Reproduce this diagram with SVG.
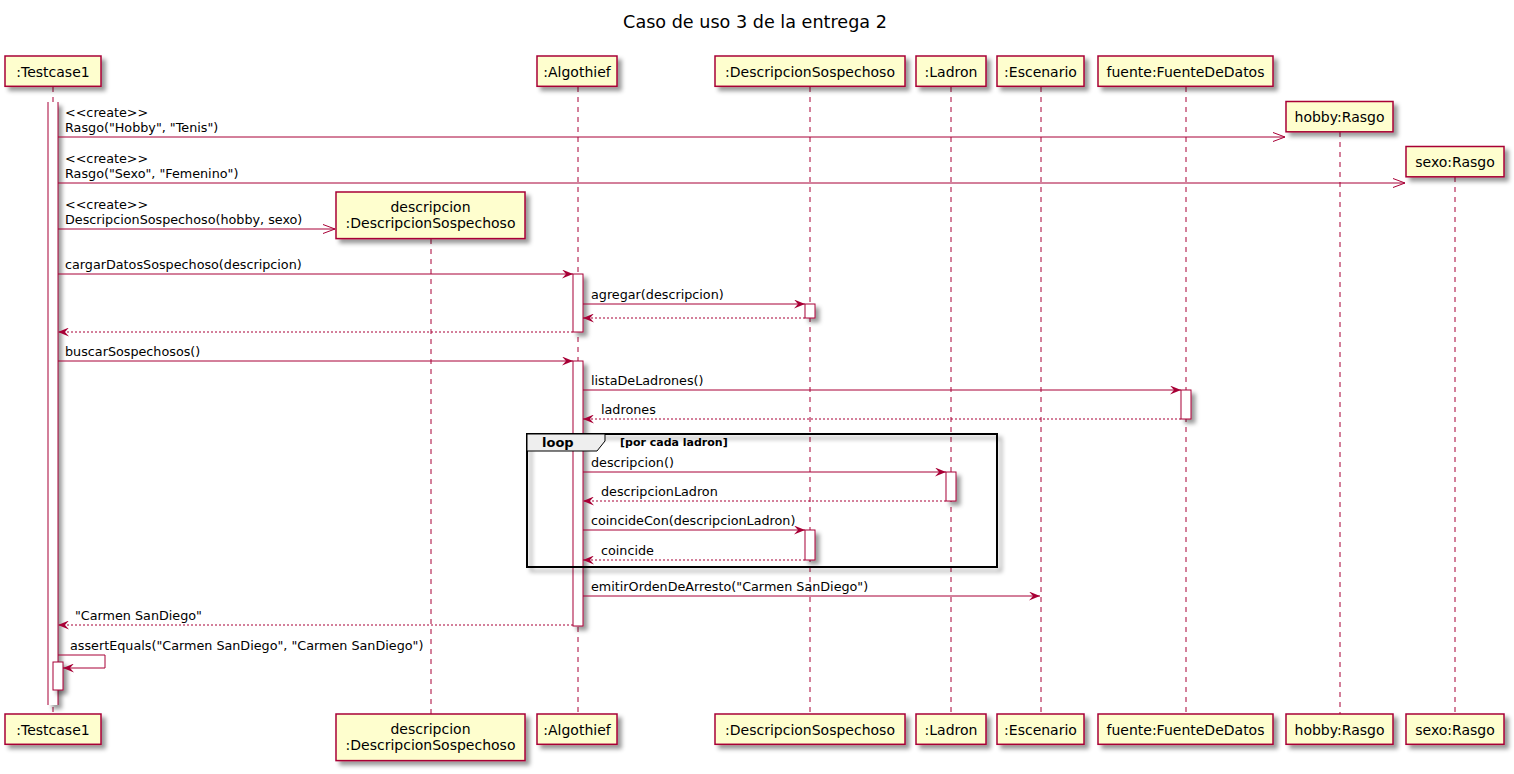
<svg xmlns="http://www.w3.org/2000/svg" width="1514" height="774" viewBox="0 0 1514 774">
  <style>
    text { font-family: "DejaVu Sans", "Noto Sans", sans-serif; fill: #000000; }
    .title { font-size: 17.6px; }
    .pname { font-size: 14px; text-anchor: middle; }
    .msg { font-size: 12.75px; }
    .box { fill: #FEFECE; stroke: #A80036; stroke-width: 1.5; }
    .life { stroke: #A80036; stroke-width: 1; stroke-dasharray: 5,5; fill: none; }
    .act { fill: #FFFFFF; stroke: #A80036; stroke-width: 1; }
    .call { stroke: #A80036; stroke-width: 1; fill: none; }
    .ret { stroke: #A80036; stroke-width: 1; stroke-dasharray: 2,2; fill: none; }
    .frame { fill: none; stroke: #000000; stroke-width: 2; }
    .tab { fill: #EEEEEE; stroke: #000000; stroke-width: 1; }
    .kw { font-size: 13px; font-weight: bold; }
    .guard { font-size: 11px; font-weight: bold; }
  </style>
  <defs>
    <filter id="shadow" x="-1" y="-1" width="300%" height="300%">
      <feGaussianBlur stdDeviation="2" result="b1"/>
      <feColorMatrix in="b1" type="matrix" values="0 0 0 0 0  0 0 0 0 0  0 0 0 0 0  0 0 0 .4 0" result="b2"/>
      <feOffset in="b2" dx="4" dy="4" result="b3"/>
      <feBlend in="SourceGraphic" in2="b3" mode="normal"/>
    </filter>
    <marker id="head" viewBox="0 0 11 9" refX="11" refY="4.5" markerWidth="11" markerHeight="9" markerUnits="userSpaceOnUse" orient="auto">
      <path d="M0,0 L11,4.5 L0,9 L4,4.5 Z" fill="#A80036" stroke="none"/>
    </marker>
    <marker id="open" viewBox="-1 -1 14 11" refX="12" refY="4.5" markerWidth="14" markerHeight="11" markerUnits="userSpaceOnUse" orient="auto">
      <path d="M0,0 L12,4.5 L0,9" fill="none" stroke="#A80036" stroke-width="1" stroke-dasharray="none"/>
    </marker>
  </defs>

  <rect width="1514" height="774" fill="#FFFFFF"/>
  <text class="title" x="755" y="28" text-anchor="middle">Caso de uso 3 de la entrega 2</text>

  <!-- lifelines and participant heads/feet -->
  <g id="testcase1">
    <line class="life" x1="53" y1="87" x2="53" y2="714"/>
    <rect class="box" x="5" y="56" width="96" height="30.3" filter="url(#shadow)"/>
    <text class="pname" x="53" y="76.5">:Testcase1</text>
    <rect class="box" x="5" y="714" width="96" height="30.3" filter="url(#shadow)"/>
    <text class="pname" x="53" y="734.5">:Testcase1</text>
  </g>

  <g id="descripcion">
    <line class="life" x1="431" y1="239" x2="431" y2="714"/>
    <rect class="box" x="336" y="192" width="189" height="46.6" filter="url(#shadow)"/>
    <text class="pname" x="430.5" y="211.5">descripcion</text>
    <text class="pname" x="430.5" y="227.8">:DescripcionSospechoso</text>
    <rect class="box" x="336" y="714" width="189" height="46.6" filter="url(#shadow)"/>
    <text class="pname" x="430.5" y="733.5">descripcion</text>
    <text class="pname" x="430.5" y="749.8">:DescripcionSospechoso</text>
  </g>

  <g id="algothief">
    <line class="life" x1="578" y1="87" x2="578" y2="714"/>
    <rect class="box" x="537" y="56" width="80" height="30.3" filter="url(#shadow)"/>
    <text class="pname" x="577" y="76.5">:Algothief</text>
    <rect class="box" x="537" y="714" width="80" height="30.3" filter="url(#shadow)"/>
    <text class="pname" x="577" y="734.5">:Algothief</text>
  </g>

  <g id="descripcionSospechoso">
    <line class="life" x1="810" y1="87" x2="810" y2="714"/>
    <rect class="box" x="715" y="56" width="190" height="30.3" filter="url(#shadow)"/>
    <text class="pname" x="810" y="76.5">:DescripcionSospechoso</text>
    <rect class="box" x="715" y="714" width="190" height="30.3" filter="url(#shadow)"/>
    <text class="pname" x="810" y="734.5">:DescripcionSospechoso</text>
  </g>

  <g id="ladron">
    <line class="life" x1="951" y1="87" x2="951" y2="714"/>
    <rect class="box" x="916" y="56" width="70" height="30.3" filter="url(#shadow)"/>
    <text class="pname" x="951" y="76.5">:Ladron</text>
    <rect class="box" x="916" y="714" width="70" height="30.3" filter="url(#shadow)"/>
    <text class="pname" x="951" y="734.5">:Ladron</text>
  </g>

  <g id="escenario">
    <line class="life" x1="1041" y1="87" x2="1041" y2="714"/>
    <rect class="box" x="997" y="56" width="87" height="30.3" filter="url(#shadow)"/>
    <text class="pname" x="1040.5" y="76.5">:Escenario</text>
    <rect class="box" x="997" y="714" width="87" height="30.3" filter="url(#shadow)"/>
    <text class="pname" x="1040.5" y="734.5">:Escenario</text>
  </g>

  <g id="fuente">
    <line class="life" x1="1186" y1="87" x2="1186" y2="714"/>
    <rect class="box" x="1098" y="56" width="175" height="30.3" filter="url(#shadow)"/>
    <text class="pname" x="1185.5" y="76.5">fuente:FuenteDeDatos</text>
    <rect class="box" x="1098" y="714" width="175" height="30.3" filter="url(#shadow)"/>
    <text class="pname" x="1185.5" y="734.5">fuente:FuenteDeDatos</text>
  </g>

  <g id="hobby">
    <line class="life" x1="1340" y1="132" x2="1340" y2="714"/>
    <rect class="box" x="1286" y="101.5" width="107" height="30.3" filter="url(#shadow)"/>
    <text class="pname" x="1339.5" y="122">hobby:Rasgo</text>
    <rect class="box" x="1286" y="714" width="107" height="30.3" filter="url(#shadow)"/>
    <text class="pname" x="1339.5" y="734.5">hobby:Rasgo</text>
  </g>

  <g id="sexo">
    <line class="life" x1="1455" y1="177" x2="1455" y2="714"/>
    <rect class="box" x="1406" y="146.5" width="98" height="30.3" filter="url(#shadow)"/>
    <text class="pname" x="1455" y="167">sexo:Rasgo</text>
    <rect class="box" x="1406" y="714" width="98" height="30.3" filter="url(#shadow)"/>
    <text class="pname" x="1455" y="734.5">sexo:Rasgo</text>
  </g>

  <!-- activation bars -->
  <g id="activations">
    <rect x="48" y="102" width="10" height="603" fill="#FFFFFF" filter="url(#shadow)"/>
    <path d="M48,102 V705 M58,102 V705" stroke="#A80036" stroke-width="1" fill="none"/>
    <rect class="act" x="573" y="274" width="10" height="58" filter="url(#shadow)"/>
    <rect class="act" x="805" y="304" width="10" height="14" filter="url(#shadow)"/>
    <rect class="act" x="573" y="361" width="10" height="265" filter="url(#shadow)"/>
    <rect class="act" x="1181" y="390" width="10" height="29" filter="url(#shadow)"/>
    <rect class="act" x="946" y="472" width="10" height="29" filter="url(#shadow)"/>
    <rect class="act" x="805" y="530" width="10" height="30" filter="url(#shadow)"/>
    <rect class="act" x="53" y="662" width="10" height="28" filter="url(#shadow)"/>
  </g>

  <!-- loop fragment -->
  <g id="loop">
    <rect class="frame" x="527" y="434" width="470" height="133" filter="url(#shadow)"/>
    <path class="tab" d="M527,434 L605,434 L605,441 L597,451 L527,451 Z"/>
    <text class="kw" x="542" y="447">loop</text>
    <text class="guard" x="620" y="446">[por cada ladron]</text>
  </g>

  <!-- messages -->
  <g id="connectors">
    <line class="call" x1="58" y1="137" x2="1285" y2="137" marker-end="url(#open)"/>
    <text class="msg" x="65" y="117">&lt;&lt;create&gt;&gt;</text>
    <text class="msg" x="65" y="132">Rasgo("Hobby", "Tenis")</text>

    <line class="call" x1="58" y1="183" x2="1405" y2="183" marker-end="url(#open)"/>
    <text class="msg" x="65" y="162.5">&lt;&lt;create&gt;&gt;</text>
    <text class="msg" x="65" y="178">Rasgo("Sexo", "Femenino")</text>

    <line class="call" x1="58" y1="229" x2="335" y2="229" marker-end="url(#open)"/>
    <text class="msg" x="65" y="208.5">&lt;&lt;create&gt;&gt;</text>
    <text class="msg" x="65" y="224">DescripcionSospechoso(hobby, sexo)</text>

    <line class="call" x1="58" y1="274" x2="573" y2="274" marker-end="url(#head)"/>
    <text class="msg" x="65" y="268.5">cargarDatosSospechoso(descripcion)</text>

    <line class="call" x1="583" y1="304" x2="805" y2="304" marker-end="url(#head)"/>
    <text class="msg" x="591" y="298.5">agregar(descripcion)</text>

    <line class="ret" x1="805" y1="318" x2="583" y2="318" marker-end="url(#head)"/>

    <line class="ret" x1="573" y1="332" x2="58" y2="332" marker-end="url(#head)"/>

    <line class="call" x1="58" y1="361" x2="573" y2="361" marker-end="url(#head)"/>
    <text class="msg" x="65" y="355.5">buscarSospechosos()</text>

    <line class="call" x1="583" y1="390" x2="1181" y2="390" marker-end="url(#head)"/>
    <text class="msg" x="591" y="384.5">listaDeLadrones()</text>

    <line class="ret" x1="1181" y1="419" x2="583" y2="419" marker-end="url(#head)"/>
    <text class="msg" x="601" y="413.5">ladrones</text>

    <line class="call" x1="583" y1="472" x2="946" y2="472" marker-end="url(#head)"/>
    <text class="msg" x="591" y="466.5">descripcion()</text>

    <line class="ret" x1="946" y1="501" x2="583" y2="501" marker-end="url(#head)"/>
    <text class="msg" x="601" y="495.5">descripcionLadron</text>

    <line class="call" x1="583" y1="530" x2="805" y2="530" marker-end="url(#head)"/>
    <text class="msg" x="591" y="524.5">coincideCon(descripcionLadron)</text>

    <line class="ret" x1="805" y1="560" x2="583" y2="560" marker-end="url(#head)"/>
    <text class="msg" x="601" y="554.5">coincide</text>

    <line class="call" x1="583" y1="596" x2="1040" y2="596" marker-end="url(#head)"/>
    <text class="msg" x="591" y="590.5">emitirOrdenDeArresto("Carmen SanDiego")</text>

    <line class="ret" x1="573" y1="625" x2="58" y2="625" marker-end="url(#head)"/>
    <text class="msg" x="75" y="619.5">"Carmen SanDiego"</text>

    <polyline class="call" points="58,655 105,655 105,668 63,668" marker-end="url(#head)"/>
    <text class="msg" x="70" y="649.5">assertEquals("Carmen SanDiego", "Carmen SanDiego")</text>
  </g>
</svg>
